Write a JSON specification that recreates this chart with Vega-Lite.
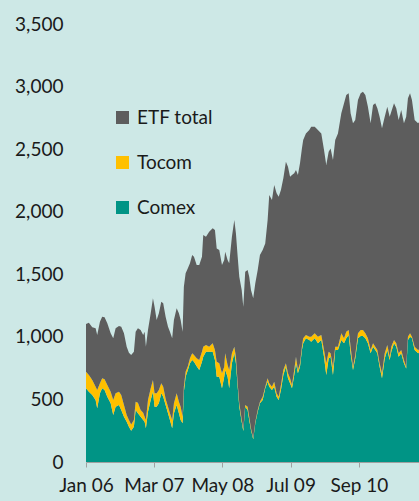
{
  "$schema": "https://vega.github.io/schema/vega-lite/v6.json",
  "width": 333,
  "height": 438,
  "autosize": {"type": "none"},
  "padding": {"left": 86, "top": 24, "right": 0, "bottom": 39},
  "background": "#cde8e6",
  "config": {
    "view": {"stroke": null},
    "font": "Lato",
    "axis": {"labelFont": "Lato", "labelColor": "#1a1a1a", "grid": false, "title": null},
    "legend": {"labelFont": "Lato"}
  },
  "datasets": {
    "ranks": [
      {"series": "Comex", "rank": 1},
      {"series": "Tocom", "rank": 2},
      {"series": "ETF total", "rank": 3}
    ]
  },
  "data": {
    "values": [
      {"d": "2006-01-01", "Comex": 589, "Tocom": 133, "ETF total": 381},
      {"d": "2006-01-19", "Comex": 562, "Tocom": 133, "ETF total": 418},
      {"d": "2006-02-09", "Comex": 535, "Tocom": 120, "ETF total": 421},
      {"d": "2006-03-02", "Comex": 495, "Tocom": 107, "ETF total": 466},
      {"d": "2006-03-12", "Comex": 429, "Tocom": 146, "ETF total": 440},
      {"d": "2006-03-29", "Comex": 549, "Tocom": 80, "ETF total": 492},
      {"d": "2006-04-12", "Comex": 589, "Tocom": 80, "ETF total": 492},
      {"d": "2006-04-27", "Comex": 575, "Tocom": 86, "ETF total": 495},
      {"d": "2006-05-14", "Comex": 522, "Tocom": 93, "ETF total": 493},
      {"d": "2006-06-04", "Comex": 469, "Tocom": 93, "ETF total": 466},
      {"d": "2006-06-20", "Comex": 376, "Tocom": 119, "ETF total": 493},
      {"d": "2006-07-05", "Comex": 442, "Tocom": 107, "ETF total": 519},
      {"d": "2006-07-26", "Comex": 455, "Tocom": 107, "ETF total": 525},
      {"d": "2006-08-09", "Comex": 415, "Tocom": 120, "ETF total": 546},
      {"d": "2006-08-26", "Comex": 362, "Tocom": 93, "ETF total": 573},
      {"d": "2006-09-12", "Comex": 322, "Tocom": 54, "ETF total": 545},
      {"d": "2006-09-26", "Comex": 282, "Tocom": 54, "ETF total": 537},
      {"d": "2006-10-10", "Comex": 250, "Tocom": 50, "ETF total": 555},
      {"d": "2006-10-27", "Comex": 282, "Tocom": 54, "ETF total": 545},
      {"d": "2006-11-07", "Comex": 415, "Tocom": 67, "ETF total": 559},
      {"d": "2006-11-21", "Comex": 389, "Tocom": 85, "ETF total": 594},
      {"d": "2006-12-08", "Comex": 362, "Tocom": 53, "ETF total": 640},
      {"d": "2006-12-24", "Comex": 336, "Tocom": 58, "ETF total": 621},
      {"d": "2007-01-02", "Comex": 322, "Tocom": 40, "ETF total": 679},
      {"d": "2007-01-10", "Comex": 269, "Tocom": 67, "ETF total": 585},
      {"d": "2007-01-23", "Comex": 402, "Tocom": 93, "ETF total": 560},
      {"d": "2007-02-09", "Comex": 495, "Tocom": 94, "ETF total": 599},
      {"d": "2007-02-23", "Comex": 562, "Tocom": 93, "ETF total": 653},
      {"d": "2007-03-05", "Comex": 442, "Tocom": 107, "ETF total": 692},
      {"d": "2007-03-18", "Comex": 442, "Tocom": 107, "ETF total": 586},
      {"d": "2007-04-01", "Comex": 469, "Tocom": 106, "ETF total": 613},
      {"d": "2007-04-16", "Comex": 549, "Tocom": 80, "ETF total": 652},
      {"d": "2007-04-28", "Comex": 522, "Tocom": 80, "ETF total": 666},
      {"d": "2007-05-13", "Comex": 455, "Tocom": 50, "ETF total": 656},
      {"d": "2007-05-28", "Comex": 389, "Tocom": 53, "ETF total": 639},
      {"d": "2007-06-09", "Comex": 336, "Tocom": 53, "ETF total": 652},
      {"d": "2007-06-23", "Comex": 269, "Tocom": 67, "ETF total": 652},
      {"d": "2007-07-04", "Comex": 389, "Tocom": 80, "ETF total": 666},
      {"d": "2007-07-21", "Comex": 455, "Tocom": 94, "ETF total": 679},
      {"d": "2007-08-04", "Comex": 389, "Tocom": 93, "ETF total": 706},
      {"d": "2007-08-15", "Comex": 336, "Tocom": 106, "ETF total": 693},
      {"d": "2007-08-27", "Comex": 309, "Tocom": 53, "ETF total": 679},
      {"d": "2007-09-04", "Comex": 562, "Tocom": 40, "ETF total": 799},
      {"d": "2007-09-15", "Comex": 682, "Tocom": 40, "ETF total": 786},
      {"d": "2007-09-29", "Comex": 735, "Tocom": 30, "ETF total": 783},
      {"d": "2007-10-12", "Comex": 789, "Tocom": 40, "ETF total": 759},
      {"d": "2007-10-26", "Comex": 815, "Tocom": 54, "ETF total": 785},
      {"d": "2007-11-06", "Comex": 801, "Tocom": 54, "ETF total": 786},
      {"d": "2007-11-23", "Comex": 765, "Tocom": 65, "ETF total": 744},
      {"d": "2007-12-09", "Comex": 735, "Tocom": 80, "ETF total": 759},
      {"d": "2007-12-26", "Comex": 801, "Tocom": 80, "ETF total": 760},
      {"d": "2008-01-03", "Comex": 841, "Tocom": 80, "ETF total": 893},
      {"d": "2008-01-20", "Comex": 881, "Tocom": 54, "ETF total": 865},
      {"d": "2008-02-09", "Comex": 881, "Tocom": 40, "ETF total": 919},
      {"d": "2008-03-02", "Comex": 881, "Tocom": 67, "ETF total": 919},
      {"d": "2008-03-16", "Comex": 815, "Tocom": 80, "ETF total": 959},
      {"d": "2008-03-27", "Comex": 682, "Tocom": 119, "ETF total": 906},
      {"d": "2008-04-12", "Comex": 682, "Tocom": 107, "ETF total": 905},
      {"d": "2008-04-29", "Comex": 589, "Tocom": 120, "ETF total": 865},
      {"d": "2008-05-13", "Comex": 682, "Tocom": 79, "ETF total": 853},
      {"d": "2008-05-19", "Comex": 735, "Tocom": 134, "ETF total": 811},
      {"d": "2008-06-03", "Comex": 682, "Tocom": 93, "ETF total": 839},
      {"d": "2008-06-13", "Comex": 589, "Tocom": 146, "ETF total": 853},
      {"d": "2008-06-30", "Comex": 789, "Tocom": 80, "ETF total": 931},
      {"d": "2008-07-15", "Comex": 869, "Tocom": 52, "ETF total": 1013},
      {"d": "2008-07-25", "Comex": 789, "Tocom": 52, "ETF total": 986},
      {"d": "2008-08-05", "Comex": 602, "Tocom": 27, "ETF total": 1012},
      {"d": "2008-08-15", "Comex": 442, "Tocom": 27, "ETF total": 1012},
      {"d": "2008-08-30", "Comex": 322, "Tocom": 20, "ETF total": 1032},
      {"d": "2008-09-09", "Comex": 248, "Tocom": 15, "ETF total": 978},
      {"d": "2008-09-21", "Comex": 442, "Tocom": 13, "ETF total": 1066},
      {"d": "2008-10-06", "Comex": 415, "Tocom": 27, "ETF total": 1092},
      {"d": "2008-10-16", "Comex": 336, "Tocom": 26, "ETF total": 1119},
      {"d": "2008-10-27", "Comex": 256, "Tocom": 13, "ETF total": 1105},
      {"d": "2008-11-10", "Comex": 182, "Tocom": 10, "ETF total": 1116},
      {"d": "2008-11-23", "Comex": 309, "Tocom": 13, "ETF total": 1106},
      {"d": "2008-12-08", "Comex": 402, "Tocom": 13, "ETF total": 1119},
      {"d": "2008-12-22", "Comex": 469, "Tocom": 13, "ETF total": 1172},
      {"d": "2009-01-08", "Comex": 495, "Tocom": 27, "ETF total": 1172},
      {"d": "2009-01-24", "Comex": 589, "Tocom": 13, "ETF total": 1145},
      {"d": "2009-02-08", "Comex": 642, "Tocom": 27, "ETF total": 1265},
      {"d": "2009-02-18", "Comex": 602, "Tocom": 27, "ETF total": 1504},
      {"d": "2009-03-07", "Comex": 575, "Tocom": 27, "ETF total": 1491},
      {"d": "2009-03-21", "Comex": 602, "Tocom": 40, "ETF total": 1571},
      {"d": "2009-04-05", "Comex": 522, "Tocom": 27, "ETF total": 1598},
      {"d": "2009-04-18", "Comex": 495, "Tocom": 27, "ETF total": 1598},
      {"d": "2009-05-02", "Comex": 575, "Tocom": 40, "ETF total": 1558},
      {"d": "2009-05-17", "Comex": 695, "Tocom": 40, "ETF total": 1532},
      {"d": "2009-06-02", "Comex": 761, "Tocom": 28, "ETF total": 1610},
      {"d": "2009-06-15", "Comex": 669, "Tocom": 40, "ETF total": 1650},
      {"d": "2009-06-28", "Comex": 629, "Tocom": 40, "ETF total": 1611},
      {"d": "2009-07-10", "Comex": 589, "Tocom": 26, "ETF total": 1678},
      {"d": "2009-07-24", "Comex": 695, "Tocom": 40, "ETF total": 1572},
      {"d": "2009-08-04", "Comex": 789, "Tocom": 52, "ETF total": 1492},
      {"d": "2009-08-16", "Comex": 709, "Tocom": 26, "ETF total": 1558},
      {"d": "2009-08-29", "Comex": 761, "Tocom": 28, "ETF total": 1598},
      {"d": "2009-09-10", "Comex": 895, "Tocom": 26, "ETF total": 1585},
      {"d": "2009-09-18", "Comex": 948, "Tocom": 40, "ETF total": 1585},
      {"d": "2009-10-05", "Comex": 988, "Tocom": 27, "ETF total": 1611},
      {"d": "2009-10-26", "Comex": 975, "Tocom": 26, "ETF total": 1652},
      {"d": "2009-11-07", "Comex": 961, "Tocom": 40, "ETF total": 1678},
      {"d": "2009-11-29", "Comex": 988, "Tocom": 40, "ETF total": 1651},
      {"d": "2009-12-19", "Comex": 948, "Tocom": 53, "ETF total": 1652},
      {"d": "2010-01-09", "Comex": 975, "Tocom": 40, "ETF total": 1611},
      {"d": "2010-01-26", "Comex": 841, "Tocom": 54, "ETF total": 1598},
      {"d": "2010-02-09", "Comex": 695, "Tocom": 94, "ETF total": 1584},
      {"d": "2010-02-24", "Comex": 828, "Tocom": 53, "ETF total": 1598},
      {"d": "2010-03-08", "Comex": 841, "Tocom": 28, "ETF total": 1637},
      {"d": "2010-03-23", "Comex": 695, "Tocom": 66, "ETF total": 1652},
      {"d": "2010-04-06", "Comex": 895, "Tocom": 26, "ETF total": 1652},
      {"d": "2010-04-23", "Comex": 895, "Tocom": 26, "ETF total": 1705},
      {"d": "2010-05-14", "Comex": 975, "Tocom": 53, "ETF total": 1758},
      {"d": "2010-05-31", "Comex": 948, "Tocom": 40, "ETF total": 1878},
      {"d": "2010-06-14", "Comex": 988, "Tocom": 53, "ETF total": 1891},
      {"d": "2010-06-29", "Comex": 1015, "Tocom": 40, "ETF total": 1891},
      {"d": "2010-07-11", "Comex": 869, "Tocom": 52, "ETF total": 1865},
      {"d": "2010-07-26", "Comex": 735, "Tocom": 26, "ETF total": 1945},
      {"d": "2010-08-09", "Comex": 828, "Tocom": 27, "ETF total": 1878},
      {"d": "2010-08-26", "Comex": 988, "Tocom": 40, "ETF total": 1864},
      {"d": "2010-09-12", "Comex": 1007, "Tocom": 48, "ETF total": 1891},
      {"d": "2010-09-26", "Comex": 1007, "Tocom": 48, "ETF total": 1904},
      {"d": "2010-10-11", "Comex": 988, "Tocom": 40, "ETF total": 1904},
      {"d": "2010-10-27", "Comex": 948, "Tocom": 40, "ETF total": 1851},
      {"d": "2010-11-13", "Comex": 869, "Tocom": 26, "ETF total": 1811},
      {"d": "2010-11-28", "Comex": 921, "Tocom": 27, "ETF total": 1904},
      {"d": "2010-12-12", "Comex": 895, "Tocom": 26, "ETF total": 1945},
      {"d": "2010-12-25", "Comex": 869, "Tocom": 26, "ETF total": 1931},
      {"d": "2011-01-08", "Comex": 761, "Tocom": 28, "ETF total": 1970},
      {"d": "2011-01-23", "Comex": 669, "Tocom": 40, "ETF total": 1957},
      {"d": "2011-02-09", "Comex": 828, "Tocom": 41, "ETF total": 1890},
      {"d": "2011-02-25", "Comex": 895, "Tocom": 40, "ETF total": 1904},
      {"d": "2011-03-12", "Comex": 815, "Tocom": 26, "ETF total": 1918},
      {"d": "2011-03-22", "Comex": 881, "Tocom": 40, "ETF total": 1878},
      {"d": "2011-04-08", "Comex": 948, "Tocom": 27, "ETF total": 1891},
      {"d": "2011-04-22", "Comex": 921, "Tocom": 27, "ETF total": 1878},
      {"d": "2011-05-07", "Comex": 841, "Tocom": 28, "ETF total": 1864},
      {"d": "2011-05-23", "Comex": 869, "Tocom": 26, "ETF total": 1917},
      {"d": "2011-06-09", "Comex": 789, "Tocom": 26, "ETF total": 1891},
      {"d": "2011-06-23", "Comex": 748, "Tocom": 13, "ETF total": 1998},
      {"d": "2011-07-04", "Comex": 975, "Tocom": 26, "ETF total": 1905},
      {"d": "2011-07-17", "Comex": 1001, "Tocom": 27, "ETF total": 1918},
      {"d": "2011-07-29", "Comex": 988, "Tocom": 13, "ETF total": 1891},
      {"d": "2011-08-15", "Comex": 895, "Tocom": 26, "ETF total": 1812},
      {"d": "2011-09-05", "Comex": 869, "Tocom": 26, "ETF total": 1811},
      {"d": "2011-09-14", "Comex": 875, "Tocom": 25, "ETF total": 1820}
    ]
  },
  "transform": [
    {"fold": ["Comex", "Tocom", "ETF total"], "as": ["series", "value"]},
    {"lookup": "series", "from": {"data": {"name": "ranks"}, "key": "series", "fields": ["rank"]}}
  ],
  "mark": {"type": "area", "clip": true, "interpolate": "linear"},
  "encoding": {
    "x": {
      "field": "d",
      "type": "temporal",
      "scale": {"domain": [{"year": 2006, "month": 1, "date": 1}, {"year": 2011, "month": 9, "date": 11}]},
      "axis": {
        "values": [
          {"year": 2006, "month": 1, "date": 1},
          {"year": 2007, "month": 3, "date": 1},
          {"year": 2008, "month": 5, "date": 1},
          {"year": 2009, "month": 7, "date": 1},
          {"year": 2010, "month": 9, "date": 1}
        ],
        "format": "%b %y",
        "labelFontSize": 19,
        "labelOverlap": false,
        "labelFlush": false,
        "labelPadding": 9,
        "domainColor": "#a0a0a0",
        "tickColor": "#a0a0a0",
        "tickSize": 5
      }
    },
    "y": {
      "field": "value",
      "type": "quantitative",
      "stack": "zero",
      "scale": {"domain": [0, 3500], "nice": false},
      "axis": {
        "values": [0, 500, 1000, 1500, 2000, 2500, 3000, 3500],
        "format": ",d",
        "labelFontSize": 19,
        "domain": false,
        "ticks": false,
        "tickSize": 0,
        "labelPadding": 23
      }
    },
    "order": {"field": "rank", "type": "quantitative", "sort": "ascending"},
    "color": {
      "field": "series",
      "type": "nominal",
      "scale": {"domain": ["ETF total", "Tocom", "Comex"], "range": ["#5d5d5d", "#ffc000", "#009485"]},
      "legend": {
        "title": null,
        "orient": "none",
        "legendX": 27,
        "legendY": 84,
        "symbolType": "square",
        "symbolSize": 170,
        "symbolStrokeWidth": 0,
        "labelFontSize": 19,
        "labelColor": "#1a1a1a",
        "labelOffset": 5,
        "rowPadding": 25,
        "padding": 0
      }
    }
  }
}
